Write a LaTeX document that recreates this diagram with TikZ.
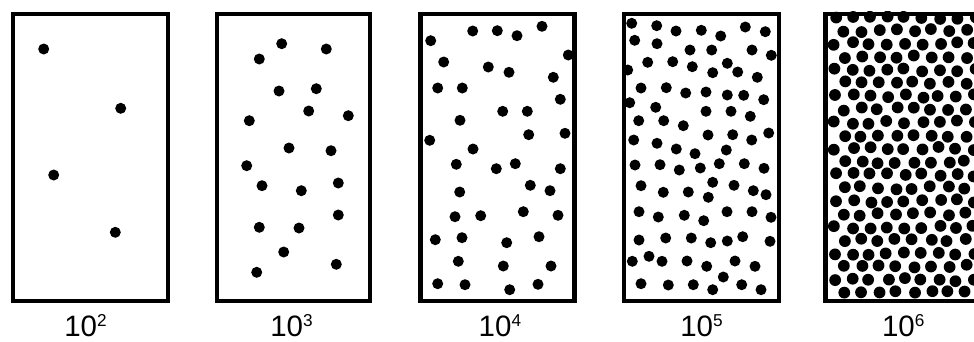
\documentclass[tikz,border=0pt]{standalone}
\usepackage{fontspec}
\setmainfont{Liberation Sans}
\newcommand{\expo}[1]{\raisebox{9.3pt}{\fontsize{17.2}{17.2}\selectfont #1}}
\begin{document}
\begin{tikzpicture}[x=1pt,y=-1pt,
  frame/.style={draw=black,line width=4.3pt},
  lbl/.style={anchor=base west,inner sep=0pt,font=\fontsize{29.5}{30}\selectfont},
  dotfill/.style={fill=black}]
\useasboundingbox (0,0) rectangle (974,341);
\clip (0,0) rectangle (974,341);
% ---------- panel 1 ----------
\foreach \x/\y in {43.7/49, 120.7/108.3, 53.7/175, 115.3/232.3}
  \fill[dotfill] (\x,\y) circle (5.5pt);
\draw[frame] (13.3,14) rectangle (167.7,301);
\node[lbl] (l1) at (64.1,336.2) {10\expo{2}};
% ---------- panel 2 ----------
\foreach \x/\y in {281.7/43.7, 326.3/49, 259.3/59, 279/91, 316.3/88.7,
  308.7/111, 348.3/115.7, 249.3/120.7, 289/148, 331/150.7, 246.7/165.7,
  262/185.7, 301.3/190.7, 338.3/183, 338.3/215, 259.3/227.3, 299/228,
  283.7/252, 336.3/264.3, 256.7/272.3}
  \fill[dotfill] (\x,\y) circle (5.5pt);
\draw[frame] (217,14) rectangle (370.3,301);
\node[lbl] (l2) at (270.1,336.2) {10\expo{3}};
% ---------- panel 3 ----------
\foreach \x/\y in {430.7/40.7, 472.7/31, 497.3/30.7, 517/35.7, 542/26.3,
  568.3/55, 443.7/62, 488.3/67, 509/72.3, 553.3/77.3, 437.7/88, 462.3/88,
  560.3/99.3, 502.7/111.3, 527.3/111.3, 460/120.3, 429.7/140.3, 528.7/134.7,
  565/133.3, 473/149, 456.3/164.3, 496.3/168.7, 515.3/163.7, 560.3/168.7,
  530.3/185.3, 550/190.7, 459.7/192, 455/216.7, 480.7/215.7, 523.3/211.7,
  558/215.3, 435.3/239.7, 462/237.7, 506.7/242.7, 539/236.7, 458.3/261.3,
  503.3/266, 551/266, 437.7/283.7, 465/284.7, 509.7/289.7, 538/284.3}
  \fill[dotfill] (\x,\y) circle (5.5pt);
\draw[frame] (420.5,14) rectangle (574.5,301);
\node[lbl] (l3) at (478.5,336.2) {10\expo{4}};
% ---------- panel 4 ----------
\foreach \x/\y in {631.7/23.3, 656.7/25.7, 676/31, 701.3/30.3, 720.7/36,
  745.3/27, 765.3/31.7, 634.7/40.3, 657/43.7, 690/50, 711.7/50, 752/50,
  771.3/55.3, 627.7/70, 647.7/62.3, 672.7/61.7, 692.3/66.7, 712.7/72.7,
  727.3/63.3, 737.7/72, 757.3/77.3, 641/88, 666.3/87.7, 685.7/93, 706/92,
  727.3/95, 743.7/95.3, 763.7/99.7, 629.7/102.7, 655.7/107.3, 706/111.3,
  731/111.3, 750.3/116.3, 638.7/120.7, 663.7/120.7, 683.3/125.7, 708/135,
  732.7/134.7, 768.7/133, 633.7/140, 657/143.3, 676.3/149, 695/153.7,
  726.3/150, 751.7/140,
  635/165, 660/164.7, 679.3/170, 700.3/168, 719.3/163.7, 744.3/163.7,
  764/168.3, 641/185.7, 663.3/192.3, 688.3/192, 708.3/197.3, 712.7/182.3,
  734/185.3, 753.3/190.7, 766/194.7, 639/211.7, 658.3/217, 684.3/215.3,
  703.7/220.7, 727/211.7, 752/211.7, 771/217.3, 639/240, 665.7/238,
  691.3/238, 710.7/242.7, 727.3/241, 742.7/236.7, 770/241.3, 632.3/261.3,
  649/256.3, 662/261.3, 687/261, 706.7/266.3, 735/261, 755/266.3,
  641/283.7, 668.3/285, 693.3/284.7, 712.7/289.7, 723.3/277, 741.7/284.7,
  761/289.7}
  \fill[dotfill] (\x,\y) circle (5.5pt);
\draw[frame] (623.8,14) rectangle (778.7,301);
\node[lbl] (l4) at (680.1,336.2) {10\expo{5}};
% ---------- panel 5 ----------
\begin{scope}
  \clip (823.3,11.8) rectangle (982,303.2);
  \pgfmathsetseed{11}
  \foreach \j in {0,...,21}{
    \foreach \k in {0,...,8}{
      \pgfmathsetmacro{\px}{835 + 17.4*\k + mod(\j,2)*8.7 + 1.8*rand}
      \pgfmathsetmacro{\py}{17.5 + 13.1*\j + 1.8*rand}
      \fill[dotfill] (\px,\py) circle (5.9pt);
    }
  }
\end{scope}
\draw[frame] (825.5,14) rectangle (980,301);
\node[lbl] (l5) at (881.8,336.2) {10\expo{6}};
\end{tikzpicture}
\end{document}
